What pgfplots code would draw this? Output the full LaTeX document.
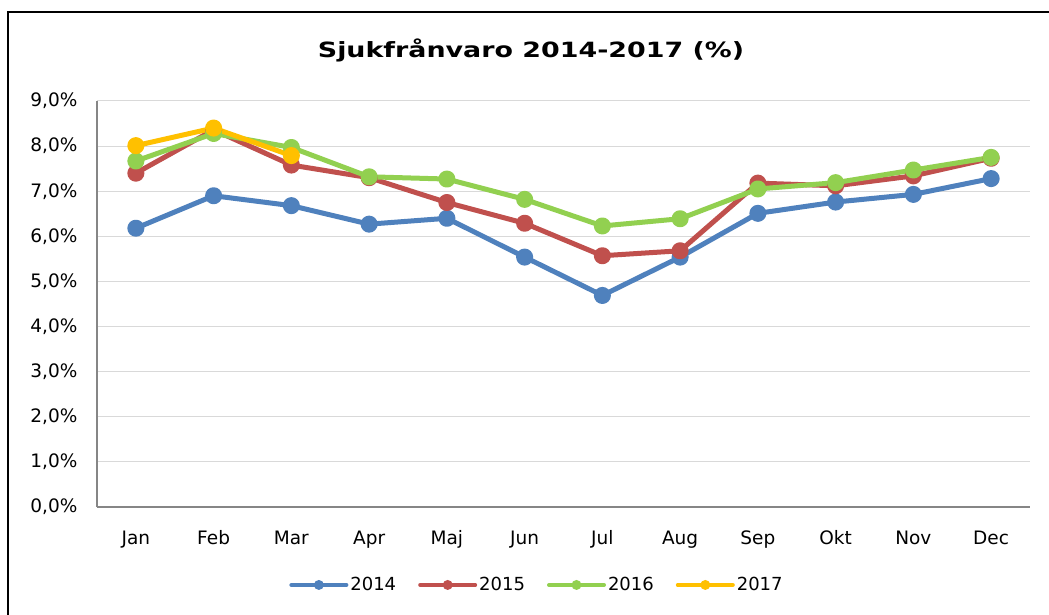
\documentclass[border=0pt]{standalone}
\usepackage{pgfplots}
\pgfplotsset{compat=1.18}
\usepackage{fontspec}
\setmainfont{DejaVu Sans}
\definecolor{c14}{HTML}{4F81BD}
\definecolor{c15}{HTML}{C0504D}
\definecolor{c16}{HTML}{92D050}
\definecolor{c17}{HTML}{FFC000}
\definecolor{axgray}{HTML}{868686}
\definecolor{grgray}{HTML}{D9D9D9}
\begin{document}
\begin{tikzpicture}[x=1pt,y=1pt]
\useasboundingbox (0pt,0pt) rectangle (1049pt,614pt);
\fill[white] (0pt,0pt) rectangle (1049pt,614pt);
\draw[black, line width=1.3pt] (8pt,-5pt) -- (8pt,602pt) -- (1055pt,602pt);
\node[font=\fontsize{21}{25}\selectfont\bfseries] at (531pt,564pt) {\scalebox{1.28}[1]{Sjukfrånvaro 2014-2017 (\%)}};
\begin{axis}[
  at={(97pt,107pt)}, anchor=south west, scale only axis,
  width=933pt, height=406pt,
  xmin=-0.5, xmax=11.5, ymin=0, ymax=9,
  axis x line=bottom, axis y line=left,
  axis line style={-, draw=axgray, line width=1.2pt},
  ymajorgrids, grid style={draw=grgray, line width=1pt},
  major tick length=0pt,
  xtick={0,...,11},
  xticklabels={Jan,Feb,Mar,Apr,Maj,Jun,Jul,Aug,Sep,Okt,Nov,Dec},
  ytick={0,...,9},
  yticklabels={{0,0\%},{1,0\%},{2,0\%},{3,0\%},{4,0\%},{5,0\%},{6,0\%},{7,0\%},{8,0\%},{9,0\%}},
  ticklabel style={font=\fontsize{18.5}{22}\selectfont},
  xticklabel style={yshift=-20pt},
  yticklabel style={xshift=-16pt},
  every axis plot/.append style={line width=5pt, line join=round, mark=*, mark size=6pt, mark options={solid}},
  legend columns=4,
  legend style={at={(0.4716,-0.192)}, anchor=center, draw=none, fill=none,
    font=\fontsize{18}{21}\selectfont, /tikz/every even column/.append style={column sep=20pt}},
  legend image code/.code={\draw[#1, mark=none, line width=4pt, line cap=round] (-1pt,0pt) -- (54pt,0pt); \fill[#1, draw=none, mark=none] (26.5pt,0pt) circle (5pt);},
]
\addplot[color=c14] coordinates {(0,6.18) (1,6.90) (2,6.68) (3,6.27) (4,6.40) (5,5.54) (6,4.69) (7,5.54) (8,6.51) (9,6.76) (10,6.93) (11,7.28)};
\addlegendentry{2014}
\addplot[color=c15] coordinates {(0,7.40) (1,8.36) (2,7.58) (3,7.30) (4,6.75) (5,6.29) (6,5.57) (7,5.68) (8,7.18) (9,7.12) (10,7.34) (11,7.73)};
\addlegendentry{2015}
\addplot[color=c16] coordinates {(0,7.67) (1,8.28) (2,7.97) (3,7.32) (4,7.27) (5,6.82) (6,6.23) (7,6.39) (8,7.05) (9,7.19) (10,7.47) (11,7.75)};
\addlegendentry{2016}
\addplot[color=c17] coordinates {(0,8.01) (1,8.40) (2,7.79)};
\addlegendentry{2017}
\end{axis}
\end{tikzpicture}
\end{document}
